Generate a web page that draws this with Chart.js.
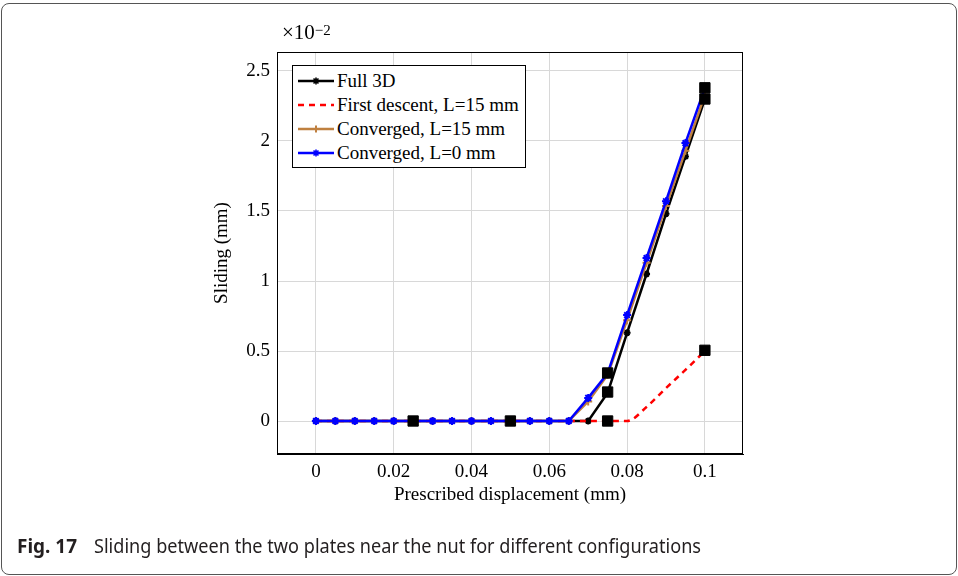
<!DOCTYPE html>
<html><head><meta charset="utf-8">
<script src="https://cdn.jsdelivr.net/npm/chart.js@4.4.1/dist/chart.umd.min.js"></script>
<style>
html,body{margin:0;padding:0;background:#fff;}
#wrap{position:relative;width:958px;height:576px;overflow:hidden;background:#fff;}
#frame{position:absolute;left:1px;top:3px;width:956px;height:572px;box-sizing:border-box;border:1px solid #555;border-radius:8px;}
#chart{position:absolute;left:0;top:0;}
#mult{position:absolute;left:282px;top:20px;font:21px "Liberation Serif";color:#000;line-height:24px;white-space:nowrap;}
#mult sup{font-size:15px;position:relative;top:-4px;vertical-align:baseline;}
#legend{position:absolute;left:292px;top:65px;width:234px;height:103px;box-sizing:border-box;border:1px solid #000;background:#fff;}
.row{position:absolute;left:0;height:24px;width:232px;}
.row svg{position:absolute;left:5px;top:7px;}
.row span{position:absolute;left:44px;top:0;font:19px "Liberation Serif";line-height:24px;color:#000;white-space:nowrap;}
#capB{position:absolute;left:17px;top:535px;font:bold 19px "Noto Sans";color:#231f20;line-height:22px;white-space:nowrap;transform-origin:0 0;}
#capT{position:absolute;left:94px;top:535px;font:19px "Noto Sans";color:#231f20;line-height:22px;white-space:nowrap;transform-origin:0 0;}
</style></head>
<body>
<div id="wrap">
<div id="frame"></div>
<canvas id="chart" width="958" height="576"></canvas>
<div id="mult">×10<sup>−2</sup></div>
<div id="legend"></div>
<div id="capB">Fig. 17</div>
<div id="capT">Sliding between the two plates near the nut for different configurations</div>
</div>
<script>
// ---- data ----
const xValues = [0, 0.005, 0.01, 0.015, 0.02, 0.025, 0.03, 0.035, 0.04, 0.045, 0.05,
                 0.055, 0.06, 0.065, 0.07, 0.075, 0.08, 0.085, 0.09, 0.095, 0.1];
const full3D       = [0,0,0,0,0,0,0,0,0,0,0,0,0,0,0, 0.2, 0.63, 1.05, 1.48, 1.89, 2.30];
const firstDescent = [0,0,0,0,0,0,0,0,0,0,0,0,0,0,0,0,0, 0.10, 0.235, 0.365, 0.5];
const convL15      = [0,0,0,0,0,0,0,0,0,0,0,0,0,0, 0.14, 0.33, 0.72, 1.13, 1.535, 1.93, 2.33];
const convL0       = [0,0,0,0,0,0,0,0,0,0,0,0,0,0, 0.165, 0.34, 0.757, 1.164, 1.57, 1.985, 2.38];
const squareX = [0.025, 0.05, 0.075, 0.075, 0.075, 0.1, 0.1, 0.1];
const squareY = [0, 0, 0, 0.207, 0.343, 0.505, 2.30, 2.38];
const seriesNames = ['Full 3D', 'First descent, L=15 mm', 'Converged, L=15 mm', 'Converged, L=0 mm'];
const xTickValues = [0, 0.02, 0.04, 0.06, 0.08, 0.1];
const xTickLabels = ['0', '0.02', '0.04', '0.06', '0.08', '0.1'];
const yTickValues = [0, 0.5, 1, 1.5, 2, 2.5];
const yTickLabels = ['0', '0.5', '1', '1.5', '2', '2.5'];
const xTitle = 'Prescribed displacement (mm)';
const yTitle = 'Sliding (mm)';

// ---- styles ----
const styles = [
  {color:'#000000', dash:[], marker:'star', r:3.5, order:4},
  {color:'#ff0000', dash:[6,5], marker:false, r:0, order:3},
  {color:'#bf8040', dash:[], marker:'cross', r:4, order:2},
  {color:'#0000ff', dash:[], marker:'star', r:4, order:1}
];
const seriesData = [full3D, firstDescent, convL15, convL0];

const datasets = seriesData.map((arr, k) => ({
  label: seriesNames[k],
  data: xValues.map((x, i) => ({x: x, y: arr[i]})),
  borderColor: styles[k].color,
  backgroundColor: styles[k].color,
  borderWidth: 2.5,
  borderDash: styles[k].dash,
  pointStyle: styles[k].marker || 'circle',
  pointRadius: styles[k].r,
  pointBorderWidth: 2,
  pointBorderColor: styles[k].color,
  pointBackgroundColor: styles[k].color,
  cubicInterpolationMode: k === 1 ? 'monotone' : 'default',
  tension: 0,
  order: styles[k].order,
  fill: false
}));
datasets.push({
  label: 'markers',
  data: squareX.map((x, i) => ({x: x, y: squareY[i]})),
  showLine: false,
  pointStyle: 'rect',
  pointRadius: 7.3,
  pointBorderWidth: 1,
  pointBackgroundColor: '#000',
  pointBorderColor: '#000',
  order: 0
});

const boxPlugin = {
  id: 'box',
  afterDatasetsDraw(chart) {
    const a = chart.chartArea, c = chart.ctx;
    c.save();
    c.strokeStyle = '#000';
    c.lineWidth = 1;
    c.strokeRect(Math.round(a.left) + 0.5, Math.round(a.top) + 0.5,
                 Math.round(a.right - a.left) - 1, Math.round(a.bottom - a.top) - 1);
    c.restore();
  }
};

const tickFont = {family: 'Liberation Serif', size: 19};
new Chart(document.getElementById('chart'), {
  type: 'line',
  data: {datasets: datasets},
  plugins: [boxPlugin],
  options: {
    responsive: false,
    devicePixelRatio: 1,
    animation: false,
    layout: {padding: {left: 207, right: 215, top: 52, bottom: 66}},
    plugins: {legend: {display: false}, tooltip: {enabled: false}},
    scales: {
      x: {
        type: 'linear', min: -0.01, max: 0.1098,
        afterBuildTicks: s => { s.ticks = xTickValues.map(v => ({value: v})); },
        afterFit: s => { s.height = 56; },
        ticks: {font: tickFont, color: '#000', padding: 7, maxRotation: 0, autoSkip: false,
                callback: (v, i) => xTickLabels[i]},
        grid: {color: '#d8d8d8', lineWidth: 1, drawTicks: false},
        border: {display: true, color: '#000'},
        title: {display: true, text: xTitle, font: tickFont, color: '#000', padding: {top: 4, bottom: 4}}
      },
      y: {
        type: 'linear', min: -0.2357, max: 2.6357,
        afterBuildTicks: s => { s.ticks = yTickValues.map(v => ({value: v})); },
        afterFit: s => { s.width = 70; },
        ticks: {font: tickFont, color: '#000', padding: 7, autoSkip: false,
                callback: (v, i) => yTickLabels[i]},
        grid: {color: '#d8d8d8', lineWidth: 1, drawTicks: false},
        border: {display: true, color: '#000'},
        title: {display: true, text: yTitle, font: tickFont, color: '#000', padding: {top: 4, bottom: 4}}
      }
    }
  }
});

// ---- legend ----
function markerSvg(type, color, cx, cy, r) {
  if (type === 'star') {
    const d = r * Math.SQRT1_2;
    return `<path d="M${cx-r} ${cy}H${cx+r}M${cx} ${cy-r}V${cy+r}M${cx-d} ${cy-d}L${cx+d} ${cy+d}M${cx-d} ${cy+d}L${cx+d} ${cy-d}" stroke="${color}" stroke-width="1.6"/>`;
  }
  if (type === 'cross') {
    return `<path d="M${cx-r} ${cy}H${cx+r}M${cx} ${cy-r}V${cy+r}" stroke="${color}" stroke-width="2"/>`;
  }
  return '';
}
const leg = document.getElementById('legend');
seriesNames.forEach((name, k) => {
  const st = styles[k];
  const row = document.createElement('div');
  row.className = 'row';
  row.style.top = (3 + 24 * k) + 'px';
  const dash = st.dash.length ? `stroke-dasharray="${st.dash.join(' ')}"` : '';
  row.innerHTML = `<svg width="36" height="10"><line x1="0" y1="5" x2="36" y2="5" stroke="${st.color}" stroke-width="2.5" ${dash}/>` +
    (st.marker ? markerSvg(st.marker, st.color, 18, 5, 3.5) : '') + `</svg><span>${name}</span>`;
  leg.appendChild(row);
});

// ---- caption width fitting ----
function fit(id, w) {
  const el = document.getElementById(id);
  const cw = el.getBoundingClientRect().width;
  if (cw > 0) el.style.transform = `scaleX(${w / cw})`;
}
fit('capB', 60);
fit('capT', 607);
</script>
</body></html>
